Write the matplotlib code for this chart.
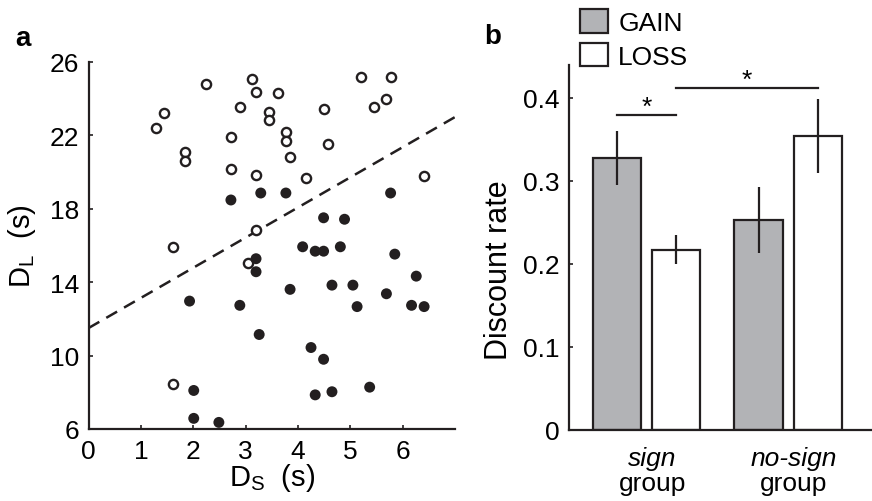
import matplotlib
matplotlib.use('Agg')
import matplotlib.pyplot as plt
from matplotlib.patches import Patch

plt.rcParams['font.family'] = ['Liberation Sans', 'DejaVu Sans']
plt.rcParams['mathtext.fontset'] = 'custom'
plt.rcParams['mathtext.rm'] = 'Liberation Sans'
plt.rcParams['mathtext.it'] = 'Liberation Sans:italic'

INK = '#231f20'

# panel a: open = above boundary, filled = below
ds_open = [2.24, 3.13, 3.20, 2.89, 1.44, 1.29, 2.72, 1.85, 1.85, 2.72, 3.20, 3.20,
           3.61, 3.45, 3.45, 4.49, 5.21, 5.77, 5.69, 5.45, 3.77, 3.77, 4.57, 3.85,
           4.16, 6.41, 1.61, 3.04, 1.61]
dl_open = [24.79, 25.08, 24.37, 23.57, 23.21, 22.38, 21.91, 21.07, 20.62, 20.17, 19.82, 16.87,
           24.30, 23.27, 22.85, 23.42, 25.17, 25.17, 23.97, 23.57, 22.21, 21.67, 21.51, 20.80,
           19.68, 19.77, 15.93, 15.06, 8.45]
ds_fill = [2.72, 3.29, 3.77, 5.77, 4.49, 4.89, 3.20, 3.20, 1.93, 2.89, 3.26, 2.01,
           2.01, 2.49, 4.09, 4.33, 4.49, 4.81, 5.85, 6.26, 3.85, 4.65, 5.05, 5.69,
           5.13, 6.17, 6.41, 4.25, 4.49, 4.33, 4.65, 5.37]
dl_fill = [18.48, 18.86, 18.86, 18.86, 17.51, 17.43, 15.28, 14.57, 12.97, 12.74, 11.15, 8.10,
           6.58, 6.36, 15.93, 15.69, 15.69, 15.93, 15.53, 14.33, 13.61, 13.84, 13.84, 13.37,
           12.67, 12.74, 12.67, 10.44, 9.80, 7.86, 8.03, 8.28]
line_x = [0, 7]
line_y = [11.5, 23.0]

# panel b
groups = ['sign', 'no-sign']
gain = [0.328, 0.253]
gain_err = [0.0325, 0.040]
loss = [0.217, 0.354]
loss_err = [0.0175, 0.045]

fig = plt.figure(figsize=(8.72, 5.02), dpi=100)
W, H = 872, 502

def add_ax(l, r, t, b):
    return fig.add_axes([l / W, 1 - b / H, (r - l) / W, (b - t) / H])

# ---- panel a
ax = add_ax(88.5, 455, 63, 430)
ax.scatter(ds_open, dl_open, s=44, facecolors='white', edgecolors=INK, linewidths=1.7, zorder=3)
ax.scatter(ds_fill, dl_fill, s=62, facecolors=INK, edgecolors='none', zorder=3)
ax.plot(line_x, line_y, color=INK, lw=1.8, dashes=(5, 3.2))
ax.set_xlim(0, 7)
ax.set_ylim(6, 26)
ax.set_xticks(range(0, 7))
ax.set_yticks([6, 10, 14, 18, 22, 26])
ax.set_xlabel('D$_\\mathrm{S}$  (s)', fontsize=21, labelpad=-1)
ax.set_ylabel('D$_\\mathrm{L}$  (s)', fontsize=21)
ax.yaxis.set_label_coords(-0.137, 0.50)

# ---- panel b
bx = add_ax(569, 872, 65.7, 431)
xc = [1, 2]
off = 0.21
bw = 0.34
xg = [x - off for x in xc]
xl = [x + off for x in xc]
bx.bar(xg, gain, bw, color='#b2b3b6', edgecolor=INK, lw=1.6, zorder=2)
bx.bar(xl, loss, bw, color='white', edgecolor=INK, lw=1.6, zorder=2)
bx.errorbar(xg, gain, yerr=gain_err, fmt='none', ecolor=INK, elinewidth=1.6, capsize=0, zorder=3)
bx.errorbar(xl, loss, yerr=loss_err, fmt='none', ecolor=INK, elinewidth=1.6, capsize=0, zorder=3)
bx.set_xlim(0.454, 2.59)
bx.set_ylim(0, 0.44)
bx.set_yticks([0, 0.1, 0.2, 0.3, 0.4])
bx.set_yticklabels(['0', '0.1', '0.2', '0.3', '0.4'])
bx.set_xticks([])
bx.set_ylabel('Discount rate', fontsize=22)
bx.yaxis.set_label_coords(-0.182, 0.44)

# significance marks
bx.plot([xg[0], xl[0]], [0.380, 0.380], color=INK, lw=1.6, clip_on=False)
bx.text((xg[0] + xl[0]) / 2, 0.381, '*', ha='center', va='baseline', fontsize=19)
bx.plot([xl[0], xl[1]], [0.412, 0.412], color=INK, lw=1.6, clip_on=False)
bx.text((xl[0] + xl[1]) / 2, 0.413, '*', ha='center', va='baseline', fontsize=19)

trans = bx.get_xaxis_transform()
for x, g in zip(xc, groups):
    bx.text(x + 0.04, -0.045, g, transform=trans, ha='center', va='top', fontsize=19, style='italic')
    bx.text(x + 0.04, -0.113, 'group', transform=trans, ha='center', va='top', fontsize=19)

bx.legend([Patch(facecolor='#b2b3b6', edgecolor=INK, lw=1.6),
           Patch(facecolor='white', edgecolor=INK, lw=1.6)],
          ['GAIN', 'LOSS'], loc='upper left', bbox_to_anchor=(580 / W, 1 - 10 / H),
          bbox_transform=fig.transFigure, frameon=False, fontsize=19,
          handlelength=1.05, handleheight=1.0, handletextpad=0.4,
          labelspacing=0.3, borderpad=0, borderaxespad=0)

for a in (ax, bx):
    for s in ('top', 'right'):
        a.spines[s].set_visible(False)
    for s in ('left', 'bottom'):
        a.spines[s].set_linewidth(1.6)
        a.spines[s].set_color(INK)
    a.tick_params(direction='in', length=3, width=1.2, labelsize=19, color=INK, pad=7)

fig.text(15 / W, 1 - 46 / H, 'a', fontsize=20, fontweight='bold')
fig.text(484 / W, 1 - 44 / H, 'b', fontsize=20, fontweight='bold')

fig.savefig('out.png', dpi=100)
